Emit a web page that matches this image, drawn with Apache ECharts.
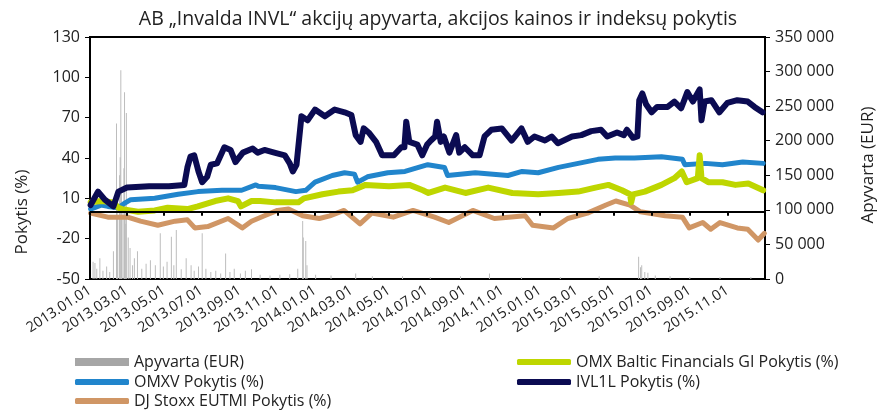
<!DOCTYPE html>
<html lang="lt">
<head>
<meta charset="UTF-8">
<title>INVL</title>
<script src="https://cdn.jsdelivr.net/npm/echarts@6/dist/echarts.min.js"></script>
<style>
  html, body { margin: 0; padding: 0; background: #fff; }
  #main { width: 891px; height: 411px; }
</style>
</head>
<body>
<div id="main"></div>
<script>
// x asies zymos
var tickLabels = ['2013.01.01', '2013.03.01', '2013.05.01', '2013.07.01', '2013.09.01', '2013.11.01',
    '2014.01.01', '2014.03.01', '2014.05.01', '2014.07.01', '2014.09.01', '2014.11.01',
    '2015.01.01', '2015.03.01', '2015.05.01', '2015.07.01', '2015.09.01', '2015.11.01'];

// IVL1L pokytis (%)
var ivl = [
    ['2013-01-02', 5], ['2013-01-14', 15], ['2013-01-25', 9], ['2013-02-08', 4], ['2013-02-16', 15],
    ['2013-03-02', 18], ['2013-04-07', 19], ['2013-05-09', 19], ['2013-06-03', 20], ['2013-06-08', 33],
    ['2013-06-13', 41], ['2013-06-19', 42], ['2013-06-26', 30], ['2013-07-02', 22], ['2013-07-10', 26],
    ['2013-07-16', 35], ['2013-07-26', 36], ['2013-08-07', 48], ['2013-08-17', 46], ['2013-08-25', 37],
    ['2013-09-06', 44], ['2013-09-22', 47], ['2013-09-30', 44], ['2013-10-11', 46], ['2013-10-27', 44],
    ['2013-11-13', 42], ['2013-11-21', 36], ['2013-11-26', 30], ['2013-12-02', 35], ['2013-12-10', 71],
    ['2013-12-20', 68], ['2014-01-01', 76], ['2014-01-17', 71], ['2014-02-02', 76], ['2014-02-18', 74],
    ['2014-03-01', 72], ['2014-03-08', 57], ['2014-03-16', 52], ['2014-03-21', 62], ['2014-03-29', 59],
    ['2014-04-10', 52], ['2014-04-20', 42], ['2014-05-09', 42], ['2014-05-21', 48], ['2014-05-26', 48],
    ['2014-05-29', 67], ['2014-06-03', 52], ['2014-06-16', 50], ['2014-06-24', 42], ['2014-07-02', 50],
    ['2014-07-08', 53], ['2014-07-15', 56], ['2014-07-18', 67], ['2014-07-24', 52], ['2014-07-29', 56],
    ['2014-08-07', 44], ['2014-08-18', 57], ['2014-08-23', 44], ['2014-09-01', 48], ['2014-09-14', 42],
    ['2014-09-25', 42], ['2014-10-03', 56], ['2014-10-14', 61], ['2014-10-31', 62], ['2014-11-16', 53],
    ['2014-12-02', 62], ['2014-12-12', 52], ['2014-12-23', 56], ['2015-01-09', 53], ['2015-01-20', 56],
    ['2015-01-30', 51], ['2015-02-22', 56], ['2015-03-09', 57], ['2015-03-25', 60], ['2015-04-10', 61],
    ['2015-04-20', 56], ['2015-05-06', 59], ['2015-05-17', 57], ['2015-05-22', 61], ['2015-06-01', 55],
    ['2015-06-08', 56], ['2015-06-11', 83], ['2015-06-16', 88], ['2015-06-22', 80], ['2015-07-01', 74],
    ['2015-07-10', 78], ['2015-07-27', 78], ['2015-08-07', 82], ['2015-08-18', 77], ['2015-08-28', 89],
    ['2015-09-06', 82], ['2015-09-17', 91], ['2015-09-20', 68], ['2015-09-25', 82], ['2015-10-06', 83],
    ['2015-10-19', 74], ['2015-11-01', 81], ['2015-11-17', 83], ['2015-12-04', 82], ['2015-12-15', 78],
    ['2015-12-28', 74]
];

// OMXV pokytis (%)
var omxv = [
    ['2013-01-02', 2], ['2013-01-19', 5], ['2013-01-30', 4], ['2013-02-16', 3], ['2013-02-25', 6],
    ['2013-03-08', 9], ['2013-04-16', 10], ['2013-05-24', 13], ['2013-06-25', 15], ['2013-08-03', 16],
    ['2013-09-04', 16], ['2013-09-27', 20], ['2013-10-01', 19], ['2013-10-29', 18], ['2013-12-01', 15],
    ['2013-12-17', 16], ['2014-01-01', 22], ['2014-01-29', 27], ['2014-02-18', 29], ['2014-03-06', 28],
    ['2014-03-11', 22], ['2014-03-27', 26], ['2014-04-29', 29], ['2014-05-27', 30], ['2014-07-03', 35],
    ['2014-07-30', 33], ['2014-08-04', 27], ['2014-09-18', 29], ['2014-11-10', 27], ['2014-12-03', 30],
    ['2014-12-29', 29], ['2015-01-31', 33], ['2015-03-04', 36], ['2015-04-05', 39], ['2015-05-03', 40],
    ['2015-06-03', 40], ['2015-07-17', 41], ['2015-08-20', 39], ['2015-08-24', 35], ['2015-09-26', 36],
    ['2015-10-24', 35], ['2015-11-26', 37], ['2015-12-29', 36]
];

// OMX Baltic Financials GI pokytis (%)
var baltic = [
    ['2013-01-02', 7], ['2013-01-19', 8], ['2013-02-08', 7], ['2013-02-16', 3], ['2013-02-22', 2],
    ['2013-03-20', 0], ['2013-04-16', 1], ['2013-05-07', 3], ['2013-06-08', 2], ['2013-06-25', 4],
    ['2013-07-23', 8], ['2013-08-13', 10], ['2013-08-29', 8], ['2013-09-03', 4], ['2013-09-20', 8],
    ['2013-10-04', 8], ['2013-10-29', 7], ['2013-12-05', 7], ['2013-12-14', 10], ['2014-01-13', 13],
    ['2014-02-08', 15], ['2014-03-03', 16], ['2014-03-24', 20], ['2014-05-01', 19], ['2014-06-03', 20],
    ['2014-06-25', 16], ['2014-07-04', 14], ['2014-07-31', 18], ['2014-09-02', 14], ['2014-10-09', 18],
    ['2014-11-17', 14], ['2014-12-29', 13], ['2015-01-31', 14], ['2015-03-04', 15], ['2015-04-01', 18],
    ['2015-04-22', 20], ['2015-05-14', 16], ['2015-05-27', 13], ['2015-05-29', 7], ['2015-06-01', 13],
    ['2015-06-20', 15], ['2015-07-17', 20], ['2015-08-07', 25], ['2015-08-19', 30], ['2015-08-27', 22],
    ['2015-09-14', 25], ['2015-09-17', 42], ['2015-09-20', 25], ['2015-10-01', 22], ['2015-10-24', 22],
    ['2015-11-14', 20], ['2015-12-05', 21], ['2015-12-29', 16]
];

// DJ Stoxx EUTMI pokytis (%)
var stoxx = [
    ['2013-01-02', -1], ['2013-01-30', -4], ['2013-03-03', -4], ['2013-03-24', -7], ['2013-04-21', -10],
    ['2013-05-19', -7], ['2013-06-08', -6], ['2013-06-20', -12], ['2013-07-11', -11], ['2013-08-13', -5],
    ['2013-09-05', -12], ['2013-09-20', -7], ['2013-10-11', -3], ['2013-11-01', 1], ['2013-11-19', 2],
    ['2013-12-12', -3], ['2014-01-08', -5], ['2014-01-25', -3], ['2014-02-17', 1], ['2014-03-15', -9],
    ['2014-04-03', -1], ['2014-05-08', -4], ['2014-06-09', 1], ['2014-07-14', -4], ['2014-08-06', -8],
    ['2014-09-14', 1], ['2014-10-19', -5], ['2014-12-08', -3], ['2014-12-20', -10], ['2015-01-23', -12],
    ['2015-02-15', -5], ['2015-03-19', -1], ['2015-04-18', 5], ['2015-05-04', 8], ['2015-05-27', 5],
    ['2015-06-13', 0], ['2015-07-23', -3], ['2015-08-20', -4], ['2015-08-31', -12], ['2015-09-22', -8],
    ['2015-10-05', -13], ['2015-10-20', -8], ['2015-11-17', -12], ['2015-12-04', -13], ['2015-12-21', -21],
    ['2015-12-31', -16]
];

// Apyvarta (EUR)
var turnover = [
    ['2013-01-06', 25000], ['2013-01-09', 23000], ['2013-01-12', 15000], ['2013-01-17', 30000],
    ['2013-01-22', 12000], ['2013-01-28', 18000], ['2013-02-02', 10000], ['2013-02-08', 40000],
    ['2013-02-13', 225000], ['2013-02-14', 120000], ['2013-02-15', 90000], ['2013-02-18', 150000],
    ['2013-02-19', 176000], ['2013-02-20', 302000], ['2013-02-21', 130000], ['2013-02-22', 100000],
    ['2013-02-25', 160000], ['2013-02-26', 270000], ['2013-02-27', 110000], ['2013-02-28', 80000],
    ['2013-03-01', 240000], ['2013-03-04', 60000], ['2013-03-07', 45000], ['2013-03-11', 20000],
    ['2013-03-14', 30000], ['2013-03-19', 40000], ['2013-03-26', 15000], ['2013-04-02', 22000],
    ['2013-04-09', 27000], ['2013-04-17', 20000], ['2013-04-25', 66000], ['2013-04-30', 18000],
    ['2013-05-06', 25000], ['2013-05-13', 61000], ['2013-05-17', 20000], ['2013-05-21', 71000],
    ['2013-05-29', 14000], ['2013-06-06', 30000], ['2013-06-14', 20000], ['2013-06-19', 12000],
    ['2013-06-26', 18000], ['2013-07-02', 66000], ['2013-07-08', 15000], ['2013-07-16', 10000],
    ['2013-07-24', 12000], ['2013-08-01', 8000], ['2013-08-09', 37000], ['2013-08-16', 10000],
    ['2013-08-23', 15000], ['2013-09-02', 8000], ['2013-09-10', 12000], ['2013-09-20', 14000],
    ['2013-10-04', 6000], ['2013-10-20', 5000], ['2013-11-05', 6000], ['2013-11-21', 7000],
    ['2013-12-04', 15000], ['2013-12-12', 84000], ['2013-12-13', 60000], ['2013-12-17', 55000],
    ['2013-12-19', 20000], ['2014-01-02', 6000], ['2014-01-27', 5000], ['2014-03-08', 8000],
    ['2014-04-04', 4000], ['2014-05-23', 4000], ['2014-07-07', 3000], ['2014-08-25', 4000],
    ['2014-10-11', 8000], ['2014-12-02', 3000], ['2015-02-03', 3000], ['2015-04-07', 4000],
    ['2015-06-10', 32000], ['2015-06-13', 17000], ['2015-06-15', 20000], ['2015-06-20', 10000],
    ['2015-06-25', 9000], ['2015-07-07', 5000], ['2015-07-31', 4000], ['2015-09-01', 3000],
    ['2015-10-20', 3000], ['2015-12-09', 3000]
];

var FONT = 'Open Sans';
var TXT = '#222';

// datos -> laiko zymos (ms)
function toTs(s) {
    var p = s.split(/[.\-]/);
    return new Date(+p[0], +p[1] - 1, +p[2]).getTime();
}
function conv(arr) {
    return arr.map(function (d) { return [toTs(d[0]), d[1]]; });
}
var tickTimes = tickLabels.map(toTs);
var xMin = toTs('2013-01-01');
var xMax = toTs('2016-01-01');

function fmtDate(v) {
    var d = new Date(v);
    var m = d.getMonth() + 1;
    return d.getFullYear() + '.' + (m < 10 ? '0' + m : m) + '.01';
}
function fmtThousands(v) {
    return String(v).replace(/\B(?=(\d{3})+(?!\d))/g, ' ');
}

// nulio linija su zymemis
var zeroLine = [[{ coord: [xMin, 0] }, { coord: [xMax, 0] }]];
tickTimes.forEach(function (t) {
    zeroLine.push([{ coord: [t, 0] }, { coord: [t, -3] }]);
});

var chart = echarts.init(document.getElementById('main'));

function lineSeries(name, color, width, data) {
    return {
        name: name, type: 'line', symbol: 'none', xAxisIndex: 0, yAxisIndex: 0,
        color: color, lineStyle: { width: width, cap: 'round', join: 'round' },
        data: conv(data)
    };
}

function legendAt(name, left, top, icon, extra) {
    var item = { name: name, icon: icon };
    if (extra) item.itemStyle = extra;
    return {
        left: left, top: top, itemWidth: 54, itemHeight: icon === 'rect' ? 8 : 6, itemGap: 0,
        textStyle: { fontFamily: FONT, fontSize: 16, color: TXT, lineHeight: 18 },
        data: [item]
    };
}

var stoxxSeries = lineSeries('DJ Stoxx EUTMI Pokytis (%)', '#d09665', 5, stoxx);
stoxxSeries.markLine = {
    silent: true, symbol: 'none', label: { show: false },
    lineStyle: { color: '#000', width: 2, type: 'solid' },
    emphasis: { disabled: true },
    data: zeroLine
};

var option = {
    animation: false,
    textStyle: { fontFamily: FONT, color: TXT },
    title: {
        text: 'AB „Invalda INVL“ akcijų apyvarta, akcijos kainos ir indeksų pokytis',
        left: 433, top: 4, textAlign: 'center',
        textStyle: { fontFamily: FONT, fontSize: 19.5, fontWeight: 'normal', color: TXT }
    },
    legend: [
        legendAt('Apyvarta (EUR)', 70, 348, 'rect', { color: '#a6a6a6' }),
        legendAt('OMXV Pokytis (%)', 70, 368, 'roundRect'),
        legendAt('DJ Stoxx EUTMI Pokytis (%)', 70, 387, 'roundRect'),
        legendAt('OMX Baltic Financials GI Pokytis (%)', 512, 348, 'roundRect'),
        legendAt('IVL1L Pokytis (%)', 512, 368, 'roundRect')
    ],
    graphic: [{
        type: 'text', x: 22, y: 212, rotation: Math.PI / 2,
        style: { text: 'Pokytis (%)', font: '17px "' + FONT + '"', fill: TXT, align: 'center', verticalAlign: 'middle' }
    }, {
        type: 'text', x: 868, y: 165, rotation: Math.PI / 2,
        style: { text: 'Apyvarta (EUR)', font: '17px "' + FONT + '"', fill: TXT, align: 'center', verticalAlign: 'middle' }
    }],
    grid: {
        left: 90, right: 126, top: 37, bottom: 132,
        show: true, borderColor: '#000', borderWidth: 2, backgroundColor: 'transparent'
    },
    xAxis: {
        type: 'value', position: 'bottom', min: xMin, max: xMax,
        axisLine: { onZero: false, lineStyle: { color: '#000', width: 2 } },
        axisTick: { show: false },
        splitLine: { show: false },
        axisLabel: {
            customValues: tickTimes, rotate: 33, margin: 10, formatter: fmtDate,
            fontFamily: FONT, fontSize: 14.5, color: TXT, hideOverlap: false
        }
    },
    yAxis: [{
        type: 'value', min: -50, max: 130, interval: 30,
        axisLine: { show: true, onZero: false, lineStyle: { color: '#000', width: 2 } },
        axisTick: { show: true, length: 5, lineStyle: { color: '#000' } },
        splitLine: { show: false },
        axisLabel: { fontFamily: FONT, fontSize: 16, color: TXT, margin: 10 }
    }, {
        type: 'value', min: 0, max: 350000, interval: 50000, position: 'right',
        axisLine: { show: true, onZero: false, lineStyle: { color: '#000', width: 2 } },
        axisTick: { show: true, length: 5, lineStyle: { color: '#000' } },
        splitLine: { show: false },
        axisLabel: { fontFamily: FONT, fontSize: 16, color: TXT, margin: 10, formatter: fmtThousands }
    }],
    series: [
        {
            name: 'Apyvarta (EUR)', type: 'bar', xAxisIndex: 0, yAxisIndex: 1,
            barWidth: 1, itemStyle: { color: '#bdbdbd' }, data: conv(turnover)
        },
        stoxxSeries,
        lineSeries('OMXV Pokytis (%)', '#2185cc', 5, omxv),
        lineSeries('OMX Baltic Financials GI Pokytis (%)', '#bed600', 6, baltic),
        lineSeries('IVL1L Pokytis (%)', '#0b0b52', 6, ivl)
    ]
};

chart.setOption(option);
</script>
</body>
</html>
